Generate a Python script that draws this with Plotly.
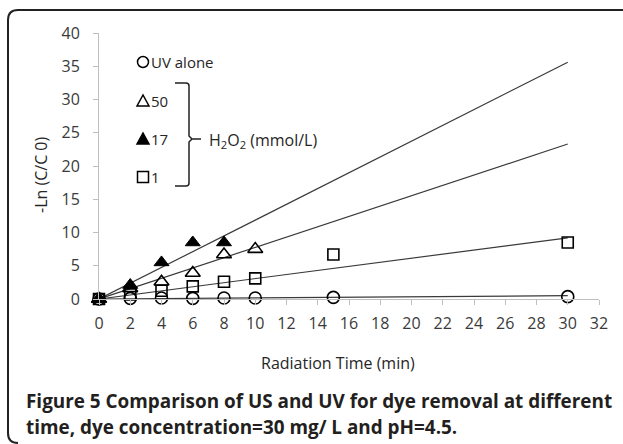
import plotly.graph_objects as go

# ---- data ----
t_uv = [0, 2, 4, 6, 8, 10, 15, 30]
y_uv = [0, 0.1, 0.15, 0.1, 0.15, 0.15, 0.25, 0.35]

t_50 = [0, 2, 4, 6, 8, 10]
y_50 = [0, 1.6, 2.6, 3.9, 6.7, 7.5]

t_17 = [0, 2, 4, 6, 8]
y_17 = [0, 2.1, 5.5, 8.5, 8.5]

t_1 = [0, 2, 4, 6, 8, 10, 15, 30]
y_1 = [0, 0.7, 1.25, 1.9, 2.6, 3.1, 6.7, 8.5]

# trend lines (start and end points)
trend_t = [0, 30]
trend_uv = [0, 0.5]
trend_1 = [0, 9.2]
trend_50 = [0, 23.3]
trend_17 = [0, 35.6]

x_ticks = list(range(0, 33, 2))
y_ticks = list(range(0, 41, 5))

# ---- layout helpers (pixel -> paper) ----
L, R, T, B = 99, 24, 33, 145
W, H = 623, 444
PW, PH = W - L - R, H - T - B


def px(x):
    return (x - L) / PW


def py(y):
    return (H - B - y) / PH


FONT = "Open Sans"
fig = go.Figure()

for ys in (trend_uv, trend_1, trend_50, trend_17):
    fig.add_trace(go.Scatter(x=trend_t, y=ys, mode="lines",
                             line=dict(color="#3a3a3a", width=1.2),
                             hoverinfo="skip", showlegend=False))

mk_line = dict(color="black", width=1.6)
fig.add_trace(go.Scatter(x=t_uv, y=y_uv, mode="markers", name="UV alone",
                         marker=dict(symbol="circle-open", size=12, color="black", line=mk_line),
                         cliponaxis=False, showlegend=False))
fig.add_trace(go.Scatter(x=t_1, y=y_1, mode="markers", name="1",
                         marker=dict(symbol="square-open", size=11, color="black", line=mk_line),
                         cliponaxis=False, showlegend=False))
fig.add_trace(go.Scatter(x=t_50, y=y_50, mode="markers", name="50",
                         marker=dict(symbol="triangle-up-open", size=13, color="black", line=mk_line),
                         cliponaxis=False, showlegend=False))
fig.add_trace(go.Scatter(x=t_17, y=y_17, mode="markers", name="17",
                         marker=dict(symbol="triangle-up", size=13, color="black",
                                     line=dict(color="black", width=1)),
                         cliponaxis=False, showlegend=False))

shapes = []
# outer rounded frame (only left/top visible)
r = 10
fx0, fy0 = 8, 10
fy1 = 443
shapes.append(dict(
    type="path", xref="paper", yref="paper",
    path=(f"M {px(W + 5)},{py(fy0)} L {px(fx0 + r)},{py(fy0)} "
          f"Q {px(fx0)},{py(fy0)} {px(fx0)},{py(fy0 + r)} "
          f"L {px(fx0)},{py(fy1 - r)} Q {px(fx0)},{py(fy1)} {px(fx0 + r)},{py(fy1)}"),
    line=dict(color="#222222", width=2)))

# legend symbols
cx = 143
shapes.append(dict(type="circle", xref="paper", yref="paper",
                   x0=px(cx - 5.5), x1=px(cx + 5.5), y0=py(62 - 5.5), y1=py(62 + 5.5),
                   line=dict(color="black", width=1.5)))
for cy, fill in ((101, "rgba(0,0,0,0)"), (139, "black")):
    shapes.append(dict(type="path", xref="paper", yref="paper",
                       path=f"M {px(cx - 6)},{py(cy + 5)} L {px(cx + 6)},{py(cy + 5)} L {px(cx)},{py(cy - 6)} Z",
                       fillcolor=fill, line=dict(color="black", width=1.5)))
shapes.append(dict(type="rect", xref="paper", yref="paper",
                   x0=px(cx - 5.5), x1=px(cx + 5.5), y0=py(177 - 5.5), y1=py(177 + 5.5),
                   line=dict(color="black", width=1.5)))

# curly bracket
bx0, bx1, bmid = 175, 189, 201
btop, bbot, bc = 83, 186, 139
shapes.append(dict(
    type="path", xref="paper", yref="paper",
    path=(f"M {px(bx0)},{py(btop)} L {px(bx1 - 3)},{py(btop)} Q {px(bx1)},{py(btop)} {px(bx1)},{py(btop + 3)} "
          f"L {px(bx1)},{py(bc - 3)} L {px(bx1 + 3)},{py(bc)} L {px(bmid)},{py(bc)} "
          f"M {px(bx1 + 3)},{py(bc)} L {px(bx1)},{py(bc + 3)} "
          f"L {px(bx1)},{py(bbot - 3)} Q {px(bx1)},{py(bbot)} {px(bx1 - 3)},{py(bbot)} L {px(bx0)},{py(bbot)}"),
    line=dict(color="#222222", width=1.5)))

ann = []


def text(x, y, s, size=16, anchor="left", color="#262626", angle=0):
    ann.append(dict(x=px(x), y=py(y), xref="paper", yref="paper", text=s,
                    showarrow=False, xanchor=anchor, yanchor="middle", textangle=angle,
                    font=dict(family=FONT, size=size, color=color)))


text(149, 62, "UV alone", size=15)
text(149, 101, "50", size=15)
text(149, 139, "17", size=15)
text(149, 177, "1", size=15)
text(207, 140, "H<sub>2</sub>O<sub>2</sub> (mmol/L)", size=16)
text(338, 363, "Radiation Time (min)", size=16, anchor="center")
text(41, 175, "-Ln (C/C 0)", size=16, anchor="center", angle=-90)
text(24, 401, "<b>Figure 5 Comparison of US and UV for dye removal at different</b>", size=18.9, color="#231f20")
text(24, 427, "<b>time, dye concentration=30 mg/ L and pH=4.5.</b>", size=18.9, color="#231f20")

axis_common = dict(showline=True, linecolor="#bfbfbf", linewidth=1, ticks="outside",
                   ticklen=5, tickcolor="#bfbfbf", showgrid=False, zeroline=False,
                   tickfont=dict(family=FONT, size=16, color="#3a3a3a"), fixedrange=True)

fig.update_layout(
    width=W, height=H, margin=dict(l=L, r=R, t=T, b=B),
    paper_bgcolor="white", plot_bgcolor="white",
    xaxis=dict(range=[0, 32], tickvals=x_ticks, ticklabelstandoff=5, **axis_common),
    yaxis=dict(range=[0, 40], tickvals=y_ticks, ticklabelstandoff=10, **axis_common),
    shapes=shapes, annotations=ann, showlegend=False,
)

fig.write_html("out.html")
